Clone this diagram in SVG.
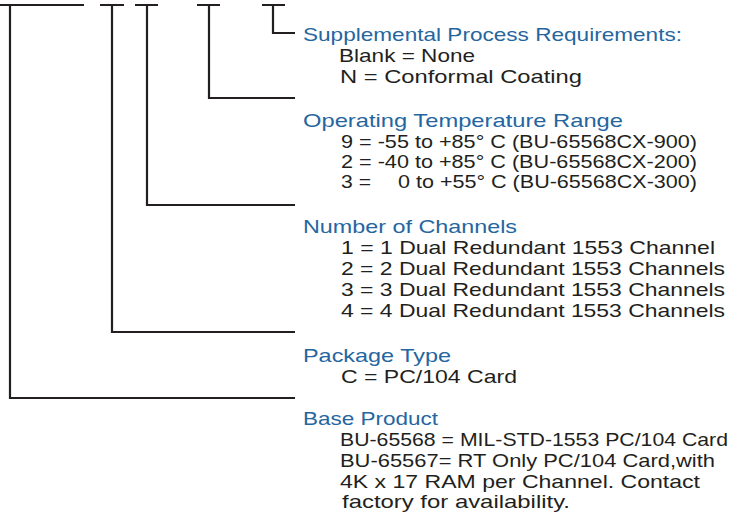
<svg xmlns="http://www.w3.org/2000/svg" width="731" height="514" viewBox="0 0 731 514">
<style>
.ln{fill:none;stroke:#231f20;stroke-width:2.2;stroke-linecap:butt;stroke-linejoin:miter}
text{font-family:"Liberation Sans",Arial,sans-serif;font-size:19px}
.h{fill:#2566a0}
.t{fill:#231f20}
</style>
<rect width="731" height="514" fill="#fff"/>
<g id="connectors">
<path class="ln" d="M0 5H84M10 5V398H295"/>
<path class="ln" d="M100 5H124M112 5V332H295"/>
<path class="ln" d="M135 5H158M147 5V205H295"/>
<path class="ln" d="M197 5H220M209 5V98H295"/>
<path class="ln" d="M262 5H285M273 5V33H295"/>
</g>
<g id="supplemental">
<text class="h" x="303" y="41" textLength="379" lengthAdjust="spacingAndGlyphs">Supplemental Process Requirements:</text>
<text class="t" x="339" y="62" textLength="136" lengthAdjust="spacingAndGlyphs">Blank = None</text>
<text class="t" x="340" y="83" textLength="242" lengthAdjust="spacingAndGlyphs">N = Conformal Coating</text>
</g>
<g id="temperature">
<text class="h" x="303" y="127" textLength="320" lengthAdjust="spacingAndGlyphs">Operating Temperature Range</text>
<text class="t" x="341" y="148" textLength="356" lengthAdjust="spacingAndGlyphs">9 = -55 to +85° C (BU-65568CX-900)</text>
<text class="t" x="341" y="168" textLength="356" lengthAdjust="spacingAndGlyphs">2 = -40 to +85° C (BU-65568CX-200)</text>
<text class="t" x="341" y="188" textLength="30" lengthAdjust="spacingAndGlyphs">3 =</text>
<text class="t" x="398" y="188" textLength="299" lengthAdjust="spacingAndGlyphs">0 to +55° C (BU-65568CX-300)</text>
</g>
<g id="channels">
<text class="h" x="303" y="233" textLength="214" lengthAdjust="spacingAndGlyphs">Number of Channels</text>
<text class="t" x="341" y="254" textLength="374" lengthAdjust="spacingAndGlyphs">1 = 1 Dual Redundant 1553 Channel</text>
<text class="t" x="341" y="275" textLength="384" lengthAdjust="spacingAndGlyphs">2 = 2 Dual Redundant 1553 Channels</text>
<text class="t" x="341" y="296" textLength="384" lengthAdjust="spacingAndGlyphs">3 = 3 Dual Redundant 1553 Channels</text>
<text class="t" x="341" y="317" textLength="384" lengthAdjust="spacingAndGlyphs">4 = 4 Dual Redundant 1553 Channels</text>
</g>
<g id="package">
<text class="h" x="303" y="362" textLength="148" lengthAdjust="spacingAndGlyphs">Package Type</text>
<text class="t" x="341" y="383" textLength="176" lengthAdjust="spacingAndGlyphs">C = PC/104 Card</text>
</g>
<g id="base">
<text class="h" x="303" y="425" textLength="135" lengthAdjust="spacingAndGlyphs">Base Product</text>
<text class="t" x="340" y="446" textLength="388" lengthAdjust="spacingAndGlyphs">BU-65568 = MIL-STD-1553 PC/104 Card</text>
<text class="t" x="340" y="467" textLength="375" lengthAdjust="spacingAndGlyphs">BU-65567= RT Only PC/104 Card,with</text>
<text class="t" x="340" y="488" textLength="360" lengthAdjust="spacingAndGlyphs">4K x 17 RAM per Channel. Contact</text>
<text class="t" x="342" y="508" textLength="228" lengthAdjust="spacingAndGlyphs">factory for availability.</text>
</g>
</svg>
